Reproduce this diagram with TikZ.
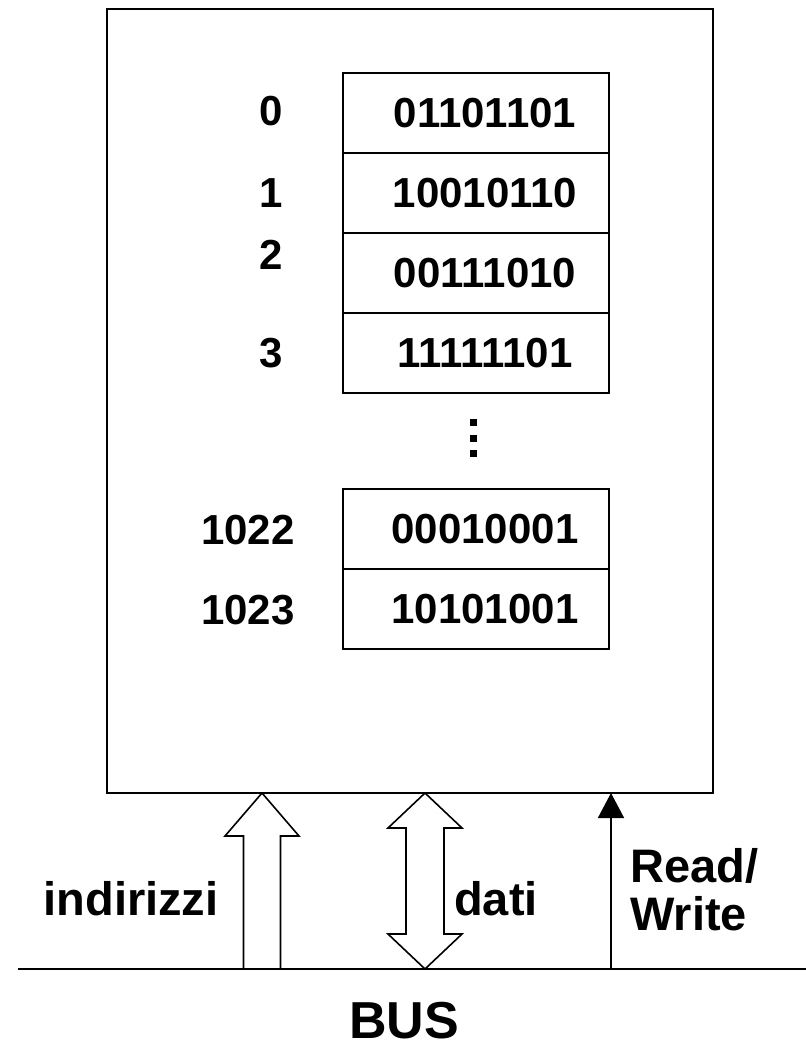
\documentclass[tikz,border=0pt]{standalone}
\usepackage{fontspec}
\setmainfont{Liberation Sans}
\usetikzlibrary{arrows.meta}

\newcommand{\cellfont}{\fontsize{42}{48}\selectfont\bfseries}
\newcommand{\busfont}{\fontsize{47}{48}\selectfont\bfseries}

\tikzset{
  cell/.style={draw, line width=1.8pt, minimum width=266pt, minimum height=80pt,
    inner sep=0pt, outer sep=0pt, font=\cellfont},
  addr/.style={inner sep=0pt, font=\cellfont},
  lbl/.style={inner sep=0pt, font=\busfont},
  blockarrow/.style={draw, line width=1.6pt, fill=white, line join=miter},
}

\begin{document}
\begin{tikzpicture}[x=1pt, y=-1pt]
  \useasboundingbox (0,0) rectangle (806,1061);
  % memory
  \node[draw, line width=1.8pt, minimum width=606pt, minimum height=784pt,
    inner sep=0pt, outer sep=0pt] (mem) at (410,401) {};
  \node[cell] (c0) at (476,113) {\hspace{18pt}01101101};
  \node[cell] (c1) at (476,193) {\hspace{18pt}10010110};
  \node[cell] (c2) at (476,273) {\hspace{18pt}00111010};
  \node[cell] (c3) at (476,353) {\hspace{18pt}11111101};
  \node[cell] (c1022) at (476,529) {\hspace{18pt}00010001};
  \node[cell] (c1023) at (476,609) {\hspace{18pt}10101001};
  % addresses
  \node[addr] (a0) at (271,111) {0};
  \node[addr] (a1) at (271,193) {1};
  \node[addr] (a2) at (271,255) {2};
  \node[addr] (a3) at (271,353) {3};
  \node[addr] (a1022) at (248,530) {1022};
  \node[addr] (a1023) at (248,610) {1023};
  \foreach \y in {422,438,453}
    \fill (473,\y) +(-3.5,-3.5) rectangle +(3.5,3.5);
  % bus
  \coordinate (busL) at (18,969);
  \coordinate (busR) at (806,969);
  \draw[line width=1.6pt] (busL) -- (busR);
  \coordinate (ia) at (262,969);
  \coordinate (da) at (425,969);
  \coordinate (rw) at (611,969);
  \draw[blockarrow] ([xshift=-18.5pt]ia) -- ++(0,-133) -- ++(-18.5,0)
    -- (ia |- mem.south) -- ++(37,43) -- ++(-18.5,0) -- ([xshift=18.5pt]ia) -- cycle;
  \draw[blockarrow] (da) -- ++(-37,-35) -- ++(18,0) -- ++(0,-106) -- ++(-18,0)
    -- (da |- mem.south) -- ++(37,35) -- ++(-18,0) -- ++(0,106) -- ++(18,0) -- cycle;
  \draw[line width=1.6pt, -{Triangle[length=25pt,width=26pt]}] (rw) -- (rw |- mem.south);
  \node[lbl, anchor=base] (ind) at (131,915) {indirizzi};
  \node[lbl, anchor=base] (dati) at (496,915) {dati};
  \node[lbl, anchor=base west, align=left] (rwl) at (630,930) {Read/\\Write};
  \node[lbl, anchor=base, font=\fontsize{52}{60}\selectfont\bfseries] (bus) at (404,1038) {BUS};
\end{tikzpicture}
\end{document}
